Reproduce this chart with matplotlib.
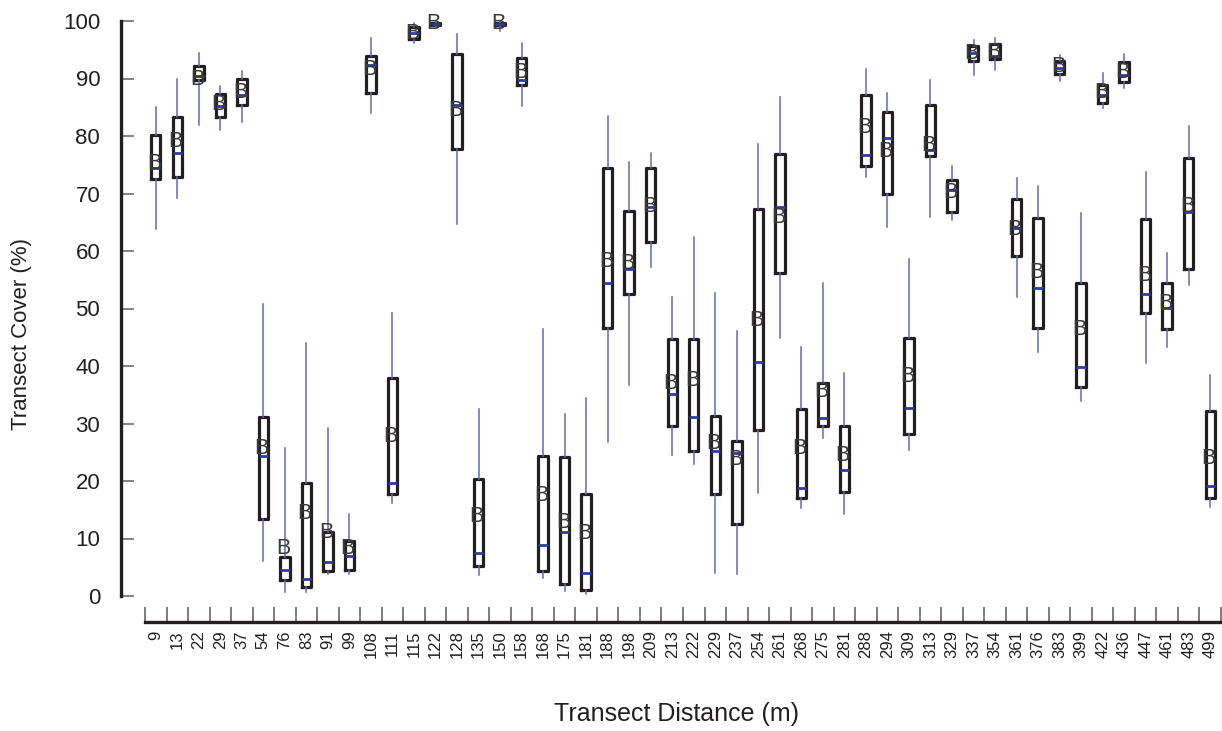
import matplotlib
matplotlib.use("Agg")
import matplotlib.pyplot as plt
from matplotlib.ticker import FixedLocator, NullFormatter

plt.rcParams["font.family"] = ["Liberation Sans", "DejaVu Sans"]

# transect distances (m) — categories on the x axis
distances = ["9", "13", "22", "29", "37", "54", "76", "83", "91", "99",
             "108", "111", "115", "122", "128", "135", "150", "158", "168", "175",
             "181", "188", "198", "209", "213", "222", "229", "237", "254", "261",
             "268", "275", "281", "288", "294", "309", "313", "329", "337", "354",
             "361", "376", "383", "399", "422", "436", "447", "461", "483", "499"]

# cover (%) per distance
wmin = [63.8, 69.2, 81.9, 81.0, 82.4, 6.1, 0.7, 0.7, 3.8, 3.8,
        84.0, 16.2, 96.2, 99.0, 64.7, 3.7, 98.2, 85.2, 3.1, 0.9,
        0.3, 26.8, 36.7, 57.2, 24.5, 23.0, 4.0, 3.8, 17.9, 44.9,
        15.3, 27.5, 14.3, 72.9, 64.2, 25.4, 65.9, 65.4, 90.6, 91.5,
        52.0, 42.4, 89.6, 33.9, 84.9, 88.3, 40.5, 43.3, 54.1, 15.5]
q1 = [72.5, 72.9, 89.8, 83.3, 85.4, 13.4, 2.8, 1.6, 4.3, 4.5,
      87.5, 17.7, 96.9, 99.3, 77.7, 5.2, 99.3, 88.9, 4.3, 2.1,
      1.0, 46.6, 52.5, 61.6, 29.6, 25.2, 17.7, 12.5, 28.9, 56.2,
      17.0, 29.6, 18.1, 74.8, 70.0, 28.2, 76.5, 66.8, 93.0, 93.4,
      59.1, 46.6, 90.8, 36.3, 85.7, 89.4, 49.2, 46.4, 56.9, 17.0]
med = [74.5, 77.0, 90.5, 85.2, 87.1, 24.3, 4.5, 3.0, 5.9, 7.0,
       92.3, 19.7, 97.9, 99.5, 85.4, 7.5, 99.5, 89.7, 8.9, 11.1,
       4.0, 54.4, 56.9, 67.7, 35.1, 31.1, 25.2, 24.9, 40.7, 67.7,
       18.8, 31.0, 21.9, 76.7, 79.7, 32.7, 77.6, 70.6, 94.4, 93.9,
       64.0, 53.6, 91.8, 39.8, 87.1, 90.6, 52.5, 50.1, 66.8, 19.1]
q3 = [80.2, 83.3, 92.2, 87.3, 89.9, 31.1, 6.8, 19.7, 11.1, 9.6,
      93.9, 37.9, 99.0, 99.7, 94.3, 20.3, 99.7, 93.6, 24.3, 24.2,
      17.7, 74.4, 67.0, 74.4, 44.7, 44.7, 31.3, 27.0, 67.3, 76.9,
      32.5, 37.0, 29.6, 87.1, 84.2, 44.9, 85.4, 72.3, 95.7, 96.0,
      69.0, 65.7, 93.0, 54.4, 88.9, 92.9, 65.6, 54.4, 76.2, 32.2]
wmax = [85.0, 90.0, 94.4, 88.7, 91.3, 50.8, 25.8, 44.0, 29.2, 14.3,
        97.0, 49.2, 99.7, 100.0, 97.7, 32.5, 100.0, 96.2, 46.4, 31.7,
        34.4, 83.5, 75.5, 77.0, 52.0, 62.4, 52.7, 46.1, 78.6, 86.8,
        43.3, 54.4, 38.8, 91.6, 87.5, 58.6, 89.7, 74.8, 96.7, 97.0,
        72.7, 71.3, 94.1, 66.6, 91.0, 94.3, 73.7, 59.6, 81.7, 38.4]
mean = [75.3, 79.0, 89.8, 85.4, 87.5, 25.6, 8.3, 14.3, 11.0, 8.2,
        91.5, 27.7, 97.9, 99.6, 84.5, 13.9, 99.6, 91.1, 17.4, 12.7,
        10.8, 58.1, 57.9, 67.7, 37.0, 37.4, 26.6, 23.8, 48.0, 65.9,
        25.6, 35.5, 24.5, 81.4, 77.3, 38.1, 78.4, 70.1, 94.4, 94.6,
        63.7, 56.2, 92.0, 46.3, 87.5, 91.1, 55.8, 50.8, 67.7, 24.0]

W, H = 1222, 731
fig = plt.figure(figsize=(W / 100, H / 100), dpi=100)
ax = fig.add_axes([145 / W, (H - 596) / H, (1221 - 145) / W, 575 / H])

stats = []
for i in range(len(distances)):
    stats.append({"whislo": wmin[i], "q1": q1[i], "med": med[i],
                  "q3": q3[i], "whishi": wmax[i], "label": distances[i]})

pos = list(range(len(distances)))
ax.bxp(stats, positions=pos, widths=0.44, showcaps=False, showfliers=False,
       boxprops=dict(color="#231f20", linewidth=2.3),
       whiskerprops=dict(color="#5f6bbd", linewidth=1.1),
       medianprops=dict(color="#2d3c9c", linewidth=2.0),
       manage_ticks=False)

for i, m in enumerate(mean):
    ax.text(pos[i] - 0.08, m, "B", ha="center", va="center",
            fontsize=15.5, color="#3a3a3a", zorder=5, clip_on=False)

ax.set_xlim(-0.5, len(distances) - 0.5)
ax.set_ylim(0, 100)

for s in ["top", "right"]:
    ax.spines[s].set_visible(False)
ax.spines["left"].set_position(("outward", 17.3))
ax.spines["bottom"].set_position(("outward", 18.7))
ax.spines["left"].set_linewidth(2.4)
ax.spines["bottom"].set_linewidth(2.4)
ax.spines["left"].set_color("#231f20")
ax.spines["bottom"].set_color("#231f20")
ax.spines["left"].set_bounds(0, 100)

ax.set_yticks(range(0, 101, 10))
ax.tick_params(axis="y", direction="in", length=9.4, width=1.3,
               color="#7a7a7a", labelsize=16, pad=15, labelcolor="#231f20")

ax.set_xticks(pos)
ax.set_xticklabels(distances, rotation=90)
ax.tick_params(axis="x", which="major", length=0, labelsize=12,
               pad=6, labelcolor="#231f20")
ax.xaxis.set_minor_locator(FixedLocator([p - 0.5 for p in pos] + [pos[-1] + 0.5]))
ax.xaxis.set_minor_formatter(NullFormatter())
ax.tick_params(axis="x", which="minor", direction="in", length=10.8,
               width=1.2, color="#666666")

fig.text(22 / W, 1 - 334 / H, "Transect Cover (%)", rotation=90,
         ha="center", va="center", fontsize=16, color="#231f20")
fig.text(676 / W, 1 - 714 / H, "Transect Distance (m)",
         ha="center", va="center", fontsize=18, color="#231f20")

fig.savefig("out.png", dpi=100)
